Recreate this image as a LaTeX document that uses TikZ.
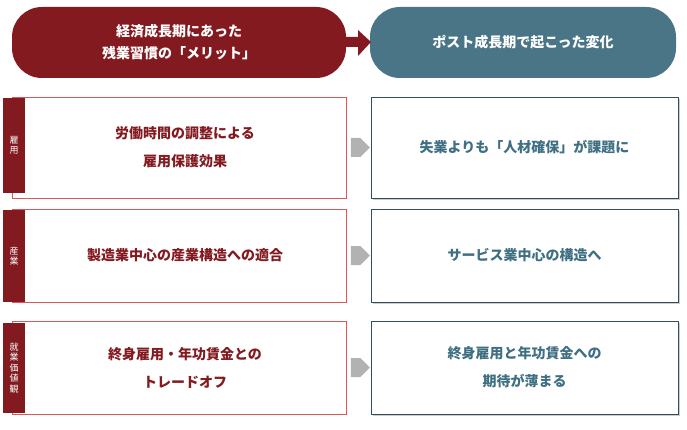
\documentclass[tikz,border=0pt]{standalone}
\usepackage{fontspec}
\setmainfont{Noto Sans CJK JP}
\usetikzlibrary{shapes.arrows,shadows}
\definecolor{dred}{HTML}{821A1F}
\definecolor{teal2}{HTML}{4A7586}
\definecolor{tealtxt}{HTML}{3F6F82}
\definecolor{lred}{HTML}{E0545A}
\definecolor{bord}{HTML}{2F4F5A}
\tikzset{x=1pt,y=-1pt,
 pill/.style={text=white,font=\bfseries\fontsize{14}{22}\selectfont,align=center},
 lbox/.style={draw=lred,line width=0.8pt},
 tab/.style={text=white,font=\fontsize{9}{10.5}\selectfont,align=center},
 rbox/.style={draw=bord,line width=0.8pt,fill=white,drop shadow={shadow xshift=2pt,shadow yshift=-2pt,opacity=0.4}},
 ltxt/.style={text=dred,font=\bfseries\fontsize{14}{28}\selectfont,align=center},
 rtxt/.style={text=tealtxt,font=\bfseries\fontsize{14}{28}\selectfont,align=center},
 garrow/.style={single arrow,fill=gray!60,minimum width=19pt,single arrow head extend=0pt,minimum height=19pt,inner sep=0pt}}
\begin{document}
\begin{tikzpicture}
\useasboundingbox (0,0) rectangle (687,430);
\fill[dred,rounded corners=30pt] (12,7) rectangle (346,78);
\fill[teal2,rounded corners=30pt] (370,7) rectangle (676,78);
\node[pill] (p1) at (179,42) {経済成長期にあった\\残業習慣の「メリット」};
\node[pill] (p2) at (523,42) {ポスト成長期で起こった変化};
\fill[dred] (344,37) -- (358,37) -- (358,30) -- (371,42) -- (358,56) -- (358,47) -- (344,47) -- cycle;
\foreach \t/\b/\tt/\tb/\lab/\ltx/\rtx/\n in {
  97/198/98/193/{雇\\用}/{労働時間の調整による\\雇用保護効果}/{失業よりも「人材確保」が課題に}/a,
  209/302/210/302/{産\\業}/{製造業中心の産業構造への適合}/{サービス業中心の構造へ}/b,
  321/414/323/413/{就\\業\\価\\値\\観}/{終身雇用・年功賃金との\\トレードオフ}/{終身雇用と年功賃金への\\期待が薄まる}/c}{
  \draw[lbox] (12,\t) rectangle (346,\b);
  \fill[dred] (3,\tt) rectangle (25,\tb);
  \node[tab] (tab\n) at (14,{(\tt+\tb)/2}) {\lab};
  \path[rbox] (371,\t) rectangle (678,\b);
  \node[rtxt] (rt\n) at (524.5,{(\t+\b)/2}) {\rtx};
  \node[ltxt] (lt\n) at (185,{(\t+\b)/2}) {\ltx};
  \node[garrow] (g\n) at (355.5,{(\t+\b)/2}) {};
}
\end{tikzpicture}
\end{document}
